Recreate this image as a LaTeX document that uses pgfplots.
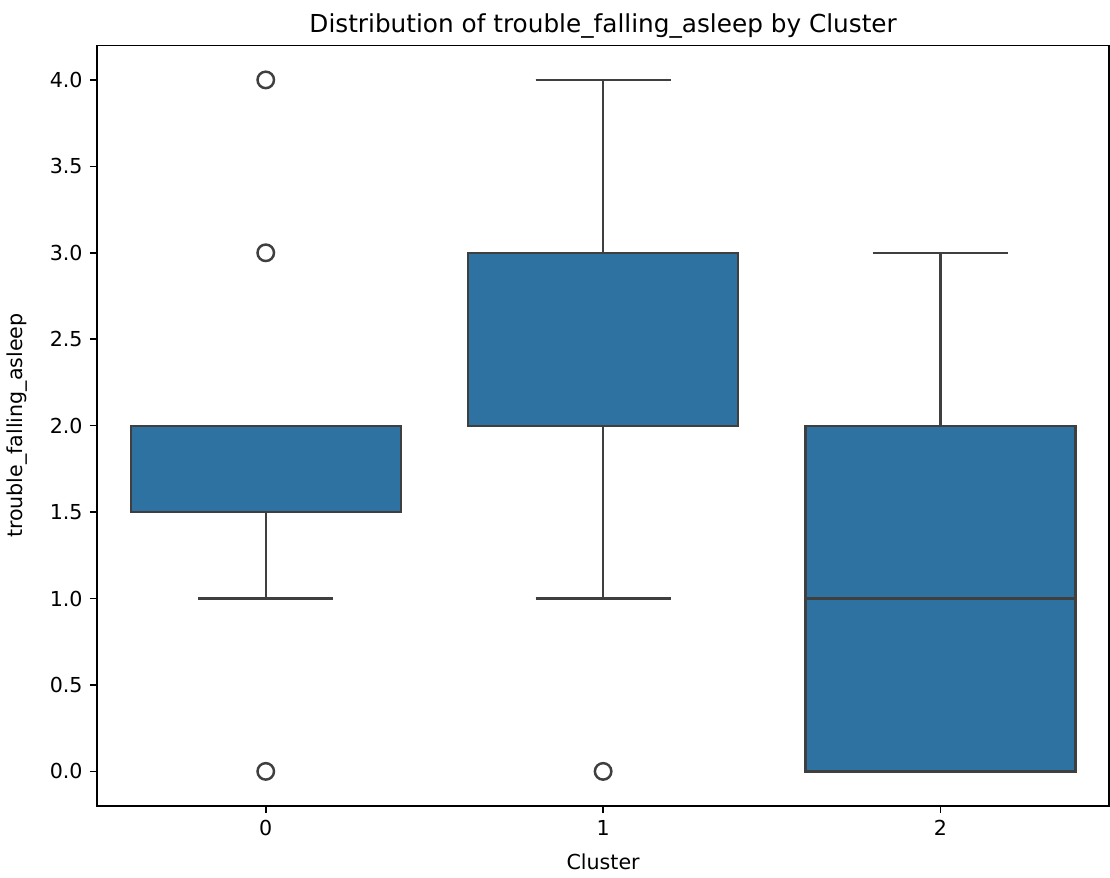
\documentclass[border=0pt]{standalone}
\usepackage{pgfplots}
\pgfplotsset{compat=1.18}
\usepgfplotslibrary{statistics}
\usepackage{fontspec}
\setmainfont{DejaVu Sans}
\definecolor{boxblue}{HTML}{2D72A0}
\definecolor{edge}{HTML}{3F3F3F}
\begin{document}
\begin{tikzpicture}
\begin{axis}[
  scale only axis,
  width=491pt, height=369pt,
  xmin=-0.5, xmax=2.5,
  ymin=-0.2, ymax=4.2,
  xtick={0,1,2},
  ytick={0,0.5,1,1.5,2,2.5,3,3.5,4},
  yticklabel style={/pgf/number format/.cd, fixed, fixed zerofill, precision=1},
  /pgf/number format/assume math mode=true,
  tick label style={font=\fontsize{10}{12}\selectfont},
  label style={font=\fontsize{10}{12}\selectfont},
  title style={font=\fontsize{12}{14}\selectfont, inner sep=0pt, text depth=0pt, text height=16pt, anchor=south, at={(0.5,1)}, yshift=-0.2pt},
  title={Distribution of trouble\_falling\_asleep by Cluster},
  xlabel={Cluster},
  ylabel={trouble\_falling\_asleep},
  xlabel style={yshift=-2pt},
  ylabel style={yshift=4pt},
  tick align=outside,
  major tick length=3.5pt,
  tick style={black, line width=0.8pt},
  xtick pos=bottom, ytick pos=left,
  axis line style={line width=0.8pt},
  boxplot/draw direction=y,
  boxplot/box extend=0.8,
  boxplot/whisker extend=0.4,
  every axis plot/.append style={line width=1.1pt},
]
\addplot+[boxplot prepared={draw position=0, lower whisker=1, lower quartile=1.5, median=2, upper quartile=2, upper whisker=2},
  draw=edge, fill=boxblue, solid, mark=o, mark size=4pt, mark options={draw=edge, fill=none, line width=1.2pt}]
  coordinates {(0,0) (0,3) (0,4)};
\addplot+[boxplot prepared={draw position=1, lower whisker=1, lower quartile=2, median=3, upper quartile=3, upper whisker=4},
  draw=edge, fill=boxblue, solid, mark=o, mark size=4pt, mark options={draw=edge, fill=none, line width=1.2pt}]
  coordinates {(1,0)};
\addplot+[boxplot prepared={draw position=2, lower whisker=0, lower quartile=0, median=1, upper quartile=2, upper whisker=3},
  draw=edge, fill=boxblue, solid, mark=o, mark size=4pt, mark options={draw=edge, fill=none, line width=1.2pt}]
  coordinates {};
\end{axis}
\end{tikzpicture}
\end{document}
